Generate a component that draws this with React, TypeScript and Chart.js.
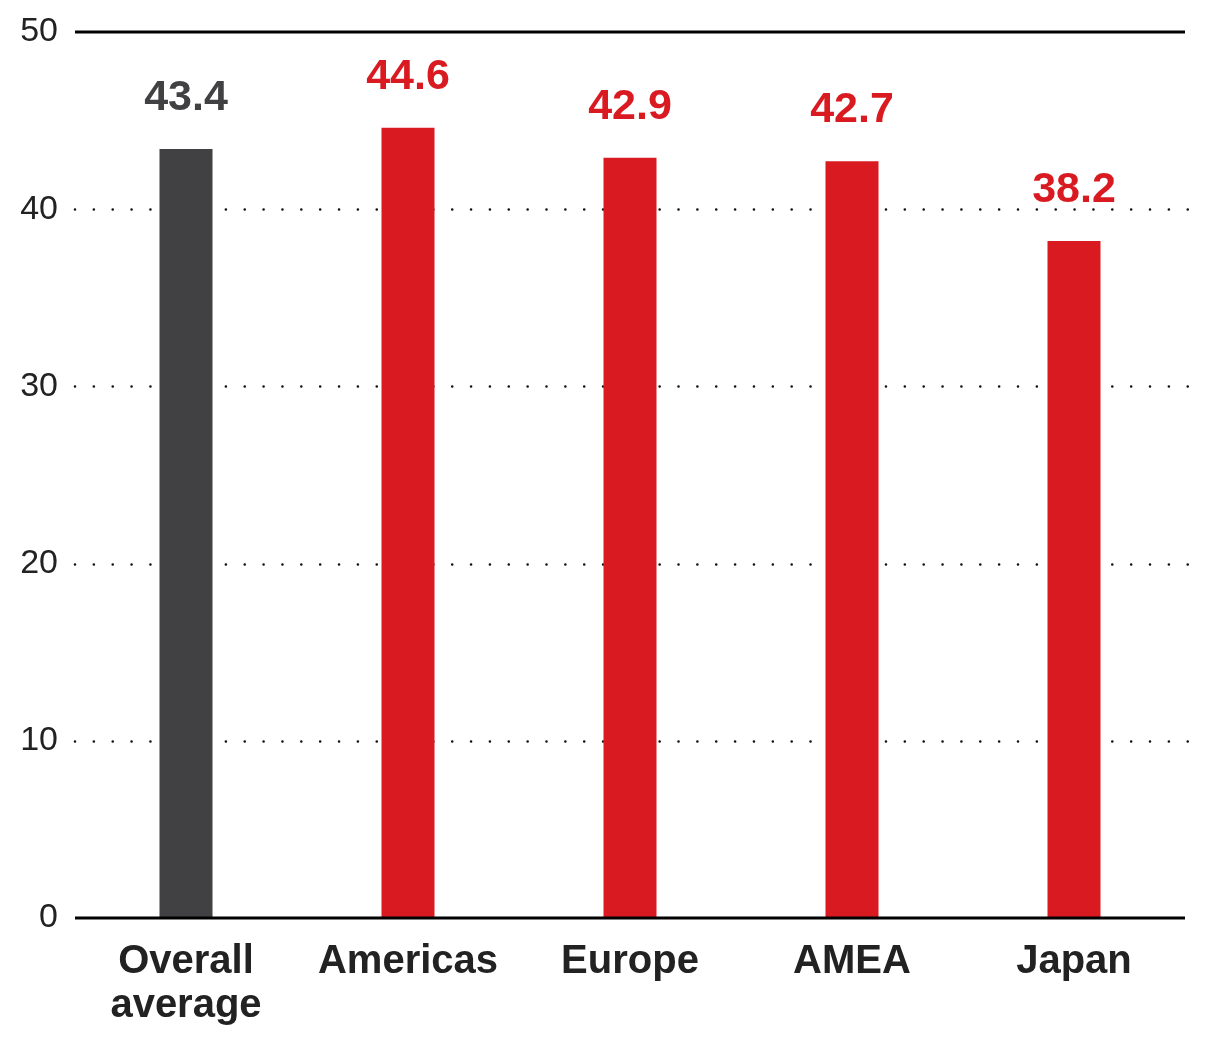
import React, { useEffect, useRef } from "react";
import { Chart, registerables } from "chart.js";

Chart.register(...registerables);

const categories: (string | string[])[] = [["Overall", "average"], "Americas", "Europe", "AMEA", "Japan"];
const values: number[] = [43.4, 44.6, 42.9, 42.7, 38.2];
const barColors: string[] = ["#414042", "#D91B21", "#D91B21", "#D91B21", "#D91B21"];
const yTicks: number[] = [0, 10, 20, 30, 40, 50];
const solidLines: number[] = [0, 50];
const dottedLines: number[] = [10, 20, 30, 40];

const FONT = "'Liberation Sans', Arial, sans-serif";

const linesPlugin = {
  id: "customLines",
  beforeDatasetsDraw(chart: any) {
    const { ctx, chartArea, scales } = chart;
    const y = scales.y;
    ctx.save();
    ctx.strokeStyle = "#111";
    ctx.lineWidth = 2.6;
    ctx.lineCap = "round";
    ctx.setLineDash([0, 18.86]);
    dottedLines.forEach((v) => {
      const py = Math.round(y.getPixelForValue(v)) + 0.5;
      ctx.beginPath();
      ctx.moveTo(chartArea.left, py);
      ctx.lineTo(chartArea.right + 6, py);
      ctx.stroke();
    });
    ctx.restore();
  },
  afterDatasetsDraw(chart: any) {
    const { ctx, chartArea, scales } = chart;
    const y = scales.y;
    ctx.save();
    ctx.strokeStyle = "#000";
    ctx.lineWidth = 2.8;
    solidLines.forEach((v) => {
      const py = y.getPixelForValue(v);
      ctx.beginPath();
      ctx.moveTo(chartArea.left, py);
      ctx.lineTo(chartArea.right, py);
      ctx.stroke();
    });
    const meta = chart.getDatasetMeta(0);
    ctx.font = `bold 43px ${FONT}`;
    ctx.textAlign = "center";
    ctx.textBaseline = "middle";
    meta.data.forEach((bar: any, i: number) => {
      ctx.fillStyle = barColors[i];
      ctx.fillText(values[i].toFixed(1), bar.x, bar.y - 51);
    });
    ctx.restore();
  },
};

export default function App() {
  const ref = useRef<HTMLCanvasElement | null>(null);
  useEffect(() => {
    if (!ref.current) return;
    const chart = new Chart(ref.current, {
      type: "bar",
      data: {
        labels: categories,
        datasets: [
          {
            data: values,
            backgroundColor: barColors,
            borderWidth: 0,
            barPercentage: 53 / 222,
            categoryPercentage: 1,
          },
        ],
      },
      options: {
        animation: false,
        responsive: false,
        maintainAspectRatio: false,
        layout: { padding: { top: 32, right: 20, left: 0, bottom: 0 } },
        plugins: { legend: { display: false }, tooltip: { enabled: false } },
        scales: {
          x: {
            grid: { display: false, drawTicks: false },
            border: { display: false },
            ticks: {
              color: "#222",
              font: { family: FONT, size: 40, weight: "bold", lineHeight: 1.1 },
              padding: 22,
              maxRotation: 0,
              autoSkip: false,
            },
            afterFit(scale: any) {
              scale.height = 122;
            },
          },
          y: {
            min: 0,
            max: 50,
            afterBuildTicks(scale: any) {
              scale.ticks = yTicks.map((v) => ({ value: v }));
            },
            grid: { display: false, drawTicks: false },
            border: { display: false },
            ticks: {
              color: "#222",
              font: { family: FONT, size: 34, lineHeight: 0.5 },
              padding: 17,
            },
            afterFit(scale: any) {
              scale.width = 75;
              scale.paddingTop = 0;
              scale.paddingBottom = 0;
            },
          },
        },
      },
      plugins: [linesPlugin],
    });
    return () => chart.destroy();
  }, []);
  return (
    <div style={{ position: "fixed", left: 0, top: 0, width: 1205, height: 1040, background: "#fff" }}>
      <canvas ref={ref} width={1205} height={1040} style={{ width: 1205, height: 1040 }} />
    </div>
  );
}
